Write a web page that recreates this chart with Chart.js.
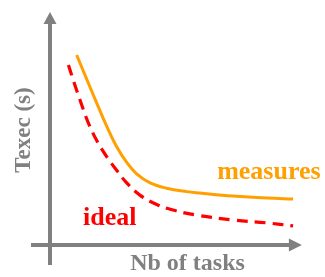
<!DOCTYPE html>
<html>
<head>
<meta charset="utf-8">
<script src="https://cdn.jsdelivr.net/npm/chart.js@4/dist/chart.umd.min.js"></script>
<style>
  html, body { margin: 0; padding: 0; background: #fff; }
  #wrap { width: 325px; height: 277px; position: relative; }
</style>
</head>
<body>
<div id="wrap"><canvas id="c" width="325" height="277"></canvas></div>
<script>
// Data (arbitrary units; no ticks on the original)
const measuresX = [9.7, 13.3, 17.0, 20.6, 24.3, 27.9, 31.5, 36.4, 42.4, 49.7, 54.5, 66.5, 78.9, 88.4];
const measuresY = [82.6, 72.2, 61.7, 51.7, 42.6, 35.9, 30.9, 27.0, 24.7, 23.2, 22.6, 21.3, 20.4, 20.0];
const idealX = [6.7, 9.1, 11.5, 13.9, 17.0, 20.6, 24.3, 27.9, 32.7, 38.8, 44.8, 53.3, 66.5, 78.9, 88.4];
const idealY = [78.3, 69.4, 61.0, 53.2, 45.4, 38.4, 32.4, 27.0, 21.7, 17.6, 15.2, 13.0, 10.9, 9.6, 8.3];
const seriesNames = ['measures', 'ideal'];
const labelX = [79.6, 12.0];
const labelY = [28.7, 8.7];
const xTitle = 'Nb of tasks';
const yTitle = 'Texec (s)';

const ORANGE = '#FF9F00';
const RED = '#FF0000';
const GRAY = '#808080';
const FONT = '"Liberation Serif", "Times New Roman", serif';

const toPts = (xs, ys) => xs.map((x, i) => ({x: x, y: ys[i]}));

const axesPlugin = {
  id: 'arrowAxes',
  beforeDatasetsDraw(chart) {
    const {ctx, scales: {x, y}} = chart;
    const x0 = x.getPixelForValue(0);
    const y0 = y.getPixelForValue(0);
    const xEnd = x.getPixelForValue(91.6);
    const yEnd = y.getPixelForValue(101.3);
    ctx.save();
    ctx.strokeStyle = GRAY;
    ctx.fillStyle = GRAY;
    ctx.lineWidth = 4;
    // vertical axis
    ctx.beginPath();
    ctx.moveTo(x0, y0 + 20);
    ctx.lineTo(x0, yEnd + 10);
    ctx.stroke();
    ctx.beginPath();
    ctx.moveTo(x0, yEnd);
    ctx.lineTo(x0 - 6.5, yEnd + 12);
    ctx.lineTo(x0 + 6.5, yEnd + 12);
    ctx.closePath();
    ctx.fill();
    // horizontal axis
    ctx.beginPath();
    ctx.moveTo(x0 - 19, y0);
    ctx.lineTo(xEnd - 10, y0);
    ctx.stroke();
    ctx.beginPath();
    ctx.moveTo(xEnd, y0);
    ctx.lineTo(xEnd - 13, y0 - 6.5);
    ctx.lineTo(xEnd - 13, y0 + 6.5);
    ctx.closePath();
    ctx.fill();
    ctx.restore();
  },
  afterDatasetsDraw(chart) {
    const {ctx, scales: {x, y}} = chart;
    ctx.save();
    ctx.font = 'bold 26px ' + FONT;
    ctx.textBaseline = 'alphabetic';
    ctx.fillStyle = ORANGE;
    ctx.textAlign = 'center';
    ctx.fillText(seriesNames[0], x.getPixelForValue(labelX[0]), y.getPixelForValue(labelY[0]));
    ctx.fillStyle = RED;
    ctx.textAlign = 'left';
    ctx.fillText(seriesNames[1], x.getPixelForValue(labelX[1]), y.getPixelForValue(labelY[1]));
    ctx.restore();
  }
};

new Chart(document.getElementById('c'), {
  type: 'line',
  data: {
    datasets: [
      {
        label: seriesNames[0],
        data: toPts(measuresX, measuresY),
        borderColor: ORANGE,
        borderWidth: 3,
        pointRadius: 0,
        fill: false,
        tension: 0.4
      },
      {
        label: seriesNames[1],
        data: toPts(idealX, idealY),
        borderColor: RED,
        borderWidth: 3.2,
        borderDash: [11, 7],
        pointRadius: 0,
        fill: false,
        tension: 0.4
      }
    ]
  },
  options: {
    responsive: false,
    animation: false,
    devicePixelRatio: 1,
    layout: { padding: { top: 15, right: 0, left: 0, bottom: 0 } },
    plugins: { legend: { display: false }, tooltip: { enabled: false } },
    scales: {
      x: {
        type: 'linear',
        min: 0, max: 100,
        grid: { display: false, drawTicks: false },
        border: { display: false },
        ticks: { display: false },
        title: {
          display: true, text: xTitle, color: GRAY,
          font: { family: FONT, size: 24, weight: 'bold', lineHeight: 1 },
          padding: { top: 7, bottom: 1 }
        }
      },
      y: {
        type: 'linear',
        min: 0, max: 100,
        grid: { display: false, drawTicks: false },
        border: { display: false },
        ticks: { display: false },
        title: {
          display: true, text: yTitle, color: GRAY,
          font: { family: FONT, size: 23, weight: 'bold', lineHeight: 1 },
          padding: { top: 12.5, bottom: 14.5 }
        }
      }
    }
  },
  plugins: [axesPlugin]
});
</script>
</body>
</html>
